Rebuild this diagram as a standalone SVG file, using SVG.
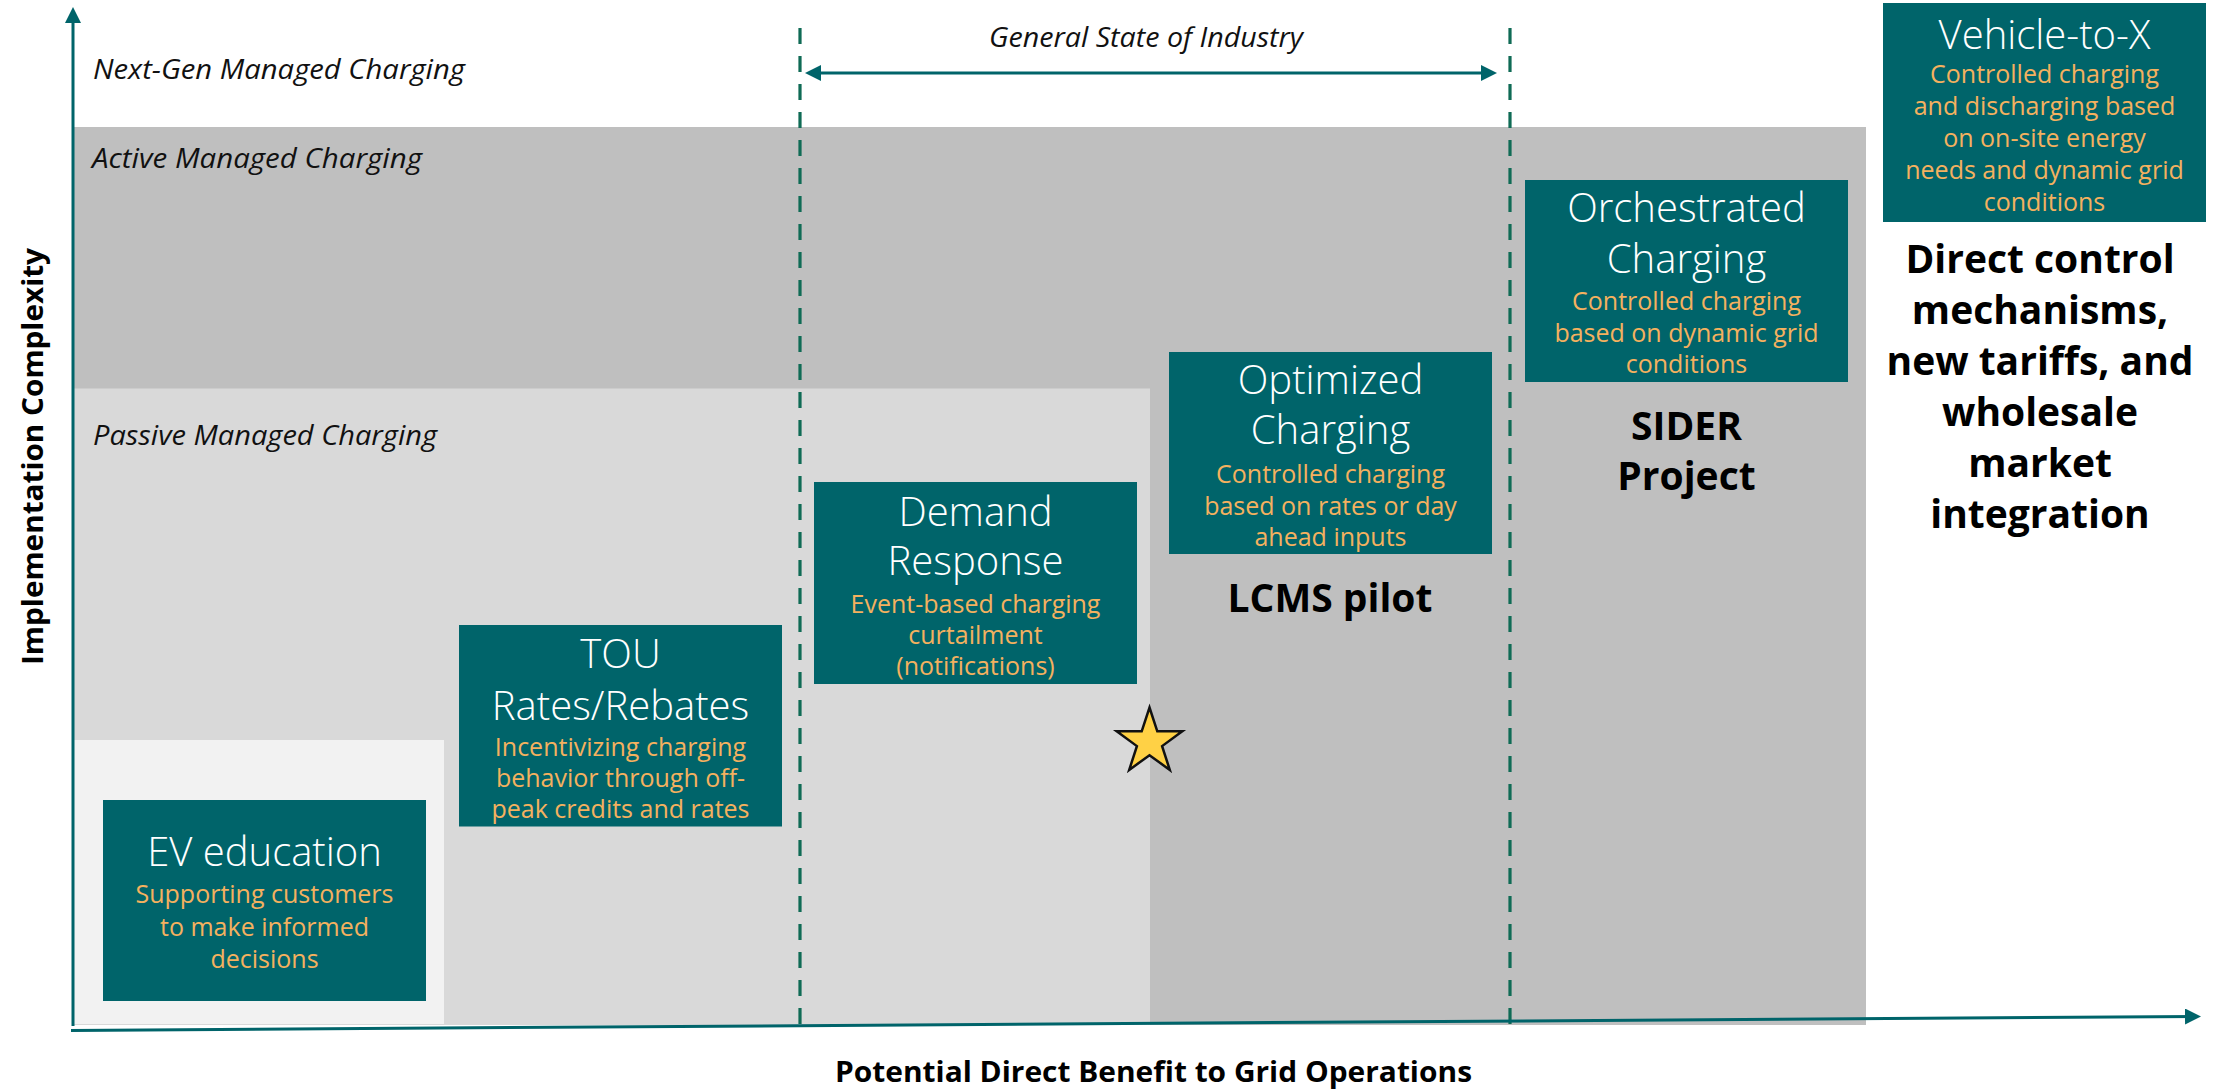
<svg xmlns="http://www.w3.org/2000/svg" width="2221" height="1090" viewBox="0 0 2221 1090">
<style>
  text { font-family: "Open Sans", "Noto Sans", "DejaVu Sans", sans-serif; }
  .band-label { font-size: 27px; font-style: italic; fill: #111; }
  .box { fill: #00646A; }
  .title { font-size: 40px; font-weight: 300; fill: #FFFFFF; text-anchor: middle; }
  .sub { font-size: 25px; fill: #F4B15F; text-anchor: middle; }
  .bold { font-size: 39px; font-weight: 700; fill: #000; text-anchor: middle; }
  .axis-label { font-size: 29px; font-weight: 700; fill: #000; text-anchor: middle; }
  .axis { stroke: #00646A; stroke-width: 3; fill: none; }
  .dash { stroke: #0F6B55; stroke-width: 3.2; stroke-dasharray: 16 12; fill: none; }
</style>
<defs>
  <marker id="arrow" markerUnits="userSpaceOnUse" viewBox="0 0 16 16" markerWidth="16" markerHeight="16" refX="12" refY="8" orient="auto-start-reverse">
    <path d="M0,0 L16,8 L0,16 z" fill="#00646A"/>
  </marker>
</defs>

<rect width="2221" height="1090" fill="#FFFFFF"/>

<g id="band-active">
  <rect x="73" y="127" width="1793" height="898" fill="#BFBFBF"/>
  <text class="band-label" x="92" y="168" textLength="330" lengthAdjust="spacingAndGlyphs">Active Managed Charging</text>
</g>
<g id="band-passive">
  <rect x="73" y="388.5" width="1077" height="636.5" fill="#D9D9D9"/>
  <text class="band-label" x="93" y="445" textLength="344" lengthAdjust="spacingAndGlyphs">Passive Managed Charging</text>
</g>
<g id="band-basic">
  <rect x="73" y="740" width="371" height="284" fill="#F2F2F2"/>
</g>
<g id="band-nextgen">
  <text class="band-label" x="93" y="79" textLength="372" lengthAdjust="spacingAndGlyphs">Next-Gen Managed Charging</text>
</g>

<g id="connectors">
  <line class="dash" x1="800" y1="28" x2="800" y2="1025"/>
  <line class="dash" x1="1510" y1="28" x2="1510" y2="1025"/>
  <line class="axis" x1="809" y1="73" x2="1493" y2="73" marker-start="url(#arrow)" marker-end="url(#arrow)"/>
  <line class="axis" x1="73" y1="1026" x2="73" y2="11" marker-end="url(#arrow)"/>
  <line class="axis" x1="71" y1="1030.5" x2="2197" y2="1016.5" marker-end="url(#arrow)"/>
</g>

<g id="label-industry">
  <text class="band-label" x="1146" y="47" text-anchor="middle" textLength="314" lengthAdjust="spacingAndGlyphs">General State of Industry</text>
</g>

<g id="node-ev-education">
  <rect class="box" x="103" y="800" width="323" height="201"/>
  <text class="title" x="264.5" y="866">EV education</text>
  <text class="sub" x="264.5" y="903">Supporting customers</text>
  <text class="sub" x="264.5" y="936">to make informed</text>
  <text class="sub" x="264.5" y="968">decisions</text>
</g>

<g id="node-tou">
  <rect class="box" x="459" y="625" width="323" height="201.5"/>
  <text class="title" x="620.5" y="668">TOU</text>
  <text class="title" x="620.5" y="720">Rates/Rebates</text>
  <text class="sub" x="620.5" y="755.5">Incentivizing charging</text>
  <text class="sub" x="620.5" y="787">behavior through off-</text>
  <text class="sub" x="620.5" y="818">peak credits and rates</text>
</g>

<g id="node-demand-response">
  <rect class="box" x="814" y="482" width="323" height="202"/>
  <text class="title" x="975.5" y="525.5">Demand</text>
  <text class="title" x="975.5" y="574.5">Response</text>
  <text class="sub" x="975.5" y="613">Event-based charging</text>
  <text class="sub" x="975.5" y="644">curtailment</text>
  <text class="sub" x="975.5" y="675">(notifications)</text>
</g>

<g id="node-optimized">
  <rect class="box" x="1169" y="352" width="323" height="202"/>
  <text class="title" x="1330.5" y="394">Optimized</text>
  <text class="title" x="1330.5" y="444">Charging</text>
  <text class="sub" x="1330.5" y="482.5">Controlled charging</text>
  <text class="sub" x="1330.5" y="514.5">based on rates or day</text>
  <text class="sub" x="1330.5" y="546">ahead inputs</text>
</g>
<g id="label-lcms">
  <text class="bold" x="1330" y="612">LCMS pilot</text>
</g>

<g id="node-orchestrated">
  <rect class="box" x="1525" y="180" width="323" height="202"/>
  <text class="title" x="1686.5" y="222">Orchestrated</text>
  <text class="title" x="1686.5" y="272.5">Charging</text>
  <text class="sub" x="1686.5" y="310">Controlled charging</text>
  <text class="sub" x="1686.5" y="341.5">based on dynamic grid</text>
  <text class="sub" x="1686.5" y="373">conditions</text>
</g>
<g id="label-sider">
  <text class="bold" x="1686.5" y="439.5">SIDER</text>
  <text class="bold" x="1686.5" y="489.5">Project</text>
</g>

<g id="node-v2x">
  <rect class="box" x="1883" y="3" width="323" height="219"/>
  <text class="title" x="2044.5" y="48.5">Vehicle-to-X</text>
  <text class="sub" x="2044.5" y="83">Controlled charging</text>
  <text class="sub" x="2044.5" y="115">and discharging based</text>
  <text class="sub" x="2044.5" y="147">on on-site energy</text>
  <text class="sub" x="2044.5" y="179">needs and dynamic grid</text>
  <text class="sub" x="2044.5" y="210.5">conditions</text>
</g>
<g id="label-direct">
  <text class="bold" x="2040" y="272.5">Direct control</text>
  <text class="bold" x="2040" y="323.5">mechanisms,</text>
  <text class="bold" x="2040" y="374.5">new tariffs, and</text>
  <text class="bold" x="2040" y="425.5">wholesale</text>
  <text class="bold" x="2040" y="477">market</text>
  <text class="bold" x="2040" y="527.5">integration</text>
</g>

<g id="star">
  <polygon points="1149.5,707.5 1157.3,731.3 1182.3,731.3 1162.1,746.1 1169.8,769.9 1149.5,755.2 1129.2,769.9 1136.9,746.1 1116.7,731.3 1141.7,731.3" fill="#FFD145" stroke="#111" stroke-width="2.5" stroke-linejoin="miter"/>
</g>

<g id="axis-labels">
  <text class="axis-label" x="1153.5" y="1082" textLength="637" lengthAdjust="spacingAndGlyphs">Potential Direct Benefit to Grid Operations</text>
  <text class="axis-label" transform="translate(43,456.5) rotate(-90)" x="0" y="0" textLength="417" lengthAdjust="spacingAndGlyphs">Implementation Complexity</text>
</g>
</svg>
